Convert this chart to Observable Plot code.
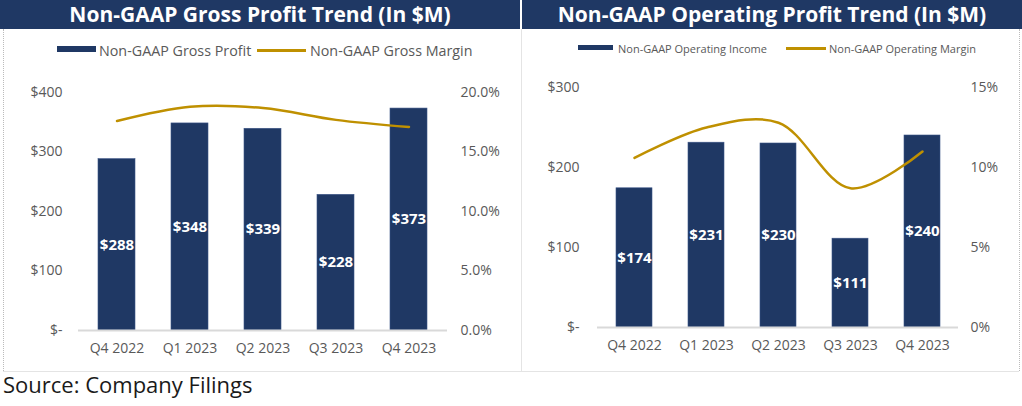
<!DOCTYPE html>
<html><head><meta charset="utf-8">
<script src="https://cdn.jsdelivr.net/npm/d3@7"></script>
<script src="https://cdn.jsdelivr.net/npm/@observablehq/plot@0.6"></script>
<style>
body{margin:0;width:1022px;height:406px;position:relative;background:#fff;font-family:"Open Sans",sans-serif;overflow:hidden}
.abs{position:absolute}
.title{position:absolute;top:0;height:29px;background:#1F3864;color:#fff;font-weight:bold;font-size:21px;line-height:29px;text-align:center;white-space:nowrap}
.leg{position:absolute;color:#595959;white-space:nowrap;transform:translateY(-50%)}
.plot{position:absolute;top:80px}
</style></head>
<body>
<div class="title" style="left:0;width:520px">Non-GAAP Gross Profit Trend (In $M)</div>
<div class="title" style="left:522px;width:500px">Non-GAAP Operating Profit Trend (In $M)</div>
<div class="abs" style="left:3px;top:29px;height:342px;border-left:1px dotted #bbb"></div>
<div class="abs" style="left:1019px;top:29px;height:342px;border-left:1px dotted #bbb"></div>
<div class="abs" style="left:521px;top:29px;height:342px;border-left:1px solid #e4e4e4"></div>
<div class="abs" style="left:3px;top:371px;width:1016px;border-top:1px solid #e4e4e4"></div>

<div class="abs" style="left:57px;top:46px;width:39px;height:6px;background:#1F3864"></div>
<div class="leg" style="left:99px;top:50px;font-size:14.3px" id="l1"></div>
<div class="abs" style="left:257px;top:49px;width:49px;height:2.5px;background:#BF9000"></div>
<div class="leg" style="left:310px;top:50px;font-size:14.3px" id="l2"></div>

<div class="abs" style="left:578px;top:45px;width:35px;height:5px;background:#1F3864"></div>
<div class="leg" style="left:618px;top:48px;font-size:11px" id="l3"></div>
<div class="abs" style="left:786px;top:47px;width:40px;height:2.5px;background:#BF9000"></div>
<div class="leg" style="left:829px;top:48px;font-size:11px" id="l4"></div>

<div id="c1" class="plot" style="left:0"></div>
<div id="c2" class="plot" style="left:511px"></div>
<div class="abs" style="left:3px;top:370px;font-size:22px;color:#1a1a1a;line-height:28px">Source: Company Filings</div>

<script>
const quarters = ["Q4 2022", "Q1 2023", "Q2 2023", "Q3 2023", "Q4 2023"];
const grossProfit = [288, 348, 339, 228, 373];
const grossMargin = [17.6, 18.8, 18.7, 17.7, 17.1];
const opIncome = [174, 231, 230, 111, 240];
const opMargin = [10.6, 12.5, 12.8, 8.7, 11.0];
const leftTicks = [0, 100, 200, 300, 400];
const rightTicks = [0, 100, 200, 300];
const legendNames = ["Non-GAAP Gross Profit", "Non-GAAP Gross Margin", "Non-GAAP Operating Income", "Non-GAAP Operating Margin"];
const pctFactor = 20; // value-axis units per percentage point

["l1","l2","l3","l4"].forEach((id,i)=>document.getElementById(id).textContent = legendNames[i]);

const NAVY = "#1F3864", GOLD = "#BF9000", GRAY = "#595959";

function chart({values, margins, ticks, width, marginTop, marginBottom, marginLeft, marginRight, leftPad, rightPad, pctFmt}) {
  const bars = quarters.map((q,i)=>({q, v: values[i]}));
  const line = quarters.map((q,i)=>({q, m: margins[i]*pctFactor}));
  const max = ticks[ticks.length-1];
  return Plot.plot({
    width, height: 280, marginTop, marginBottom, marginLeft, marginRight,
    style: {fontFamily: '"Open Sans", sans-serif', fontSize: "14px", color: GRAY, background: "transparent", overflow: "visible"},
    x: {domain: quarters, paddingInner: 0.5, paddingOuter: 0.25, label: null},
    y: {domain: [0, max], label: null},
    marks: [
      Plot.barY(bars, {x: "q", y: "v", fill: NAVY, stroke: "#3b5486", strokeWidth: 0.6}),
      Plot.ruleY([0], {stroke: "#d9d9d9", strokeWidth: 2}),
      Plot.text(bars, {x: "q", y: d => d.v/2, text: d => "$" + d.v, fill: "white", fontWeight: "bold", fontSize: 15}),
      Plot.line(line, {x: "q", y: "m", stroke: GOLD, strokeWidth: 2.5, curve: "catmull-rom"}),
      Plot.axisX({tickSize: 0, tickPadding: 13, fontSize: 14}),
      Plot.axisY({anchor: "left", ticks, tickSize: 0, tickPadding: leftPad, tickFormat: d => d === 0 ? "$-" : "$" + d, fontSize: 14}),
      Plot.axisY({anchor: "right", ticks, tickSize: 0, tickPadding: rightPad, tickFormat: pctFmt, fontSize: 14})
    ]
  });
}

document.getElementById("c1").append(chart({
  values: grossProfit, margins: grossMargin, ticks: leftTicks,
  width: 520, marginTop: 12, marginBottom: 30, marginLeft: 78, marginRight: 73,
  leftPad: 16, rightPad: 13, pctFmt: d => (d/pctFactor).toFixed(1) + "%"
}));
document.getElementById("c2").append(chart({
  values: opIncome, margins: opMargin, ticks: rightTicks,
  width: 511, marginTop: 7, marginBottom: 33, marginLeft: 86, marginRight: 64,
  leftPad: 18, rightPad: 12, pctFmt: d => (d/pctFactor).toFixed(0) + "%"
}));
</script>
</body></html>
